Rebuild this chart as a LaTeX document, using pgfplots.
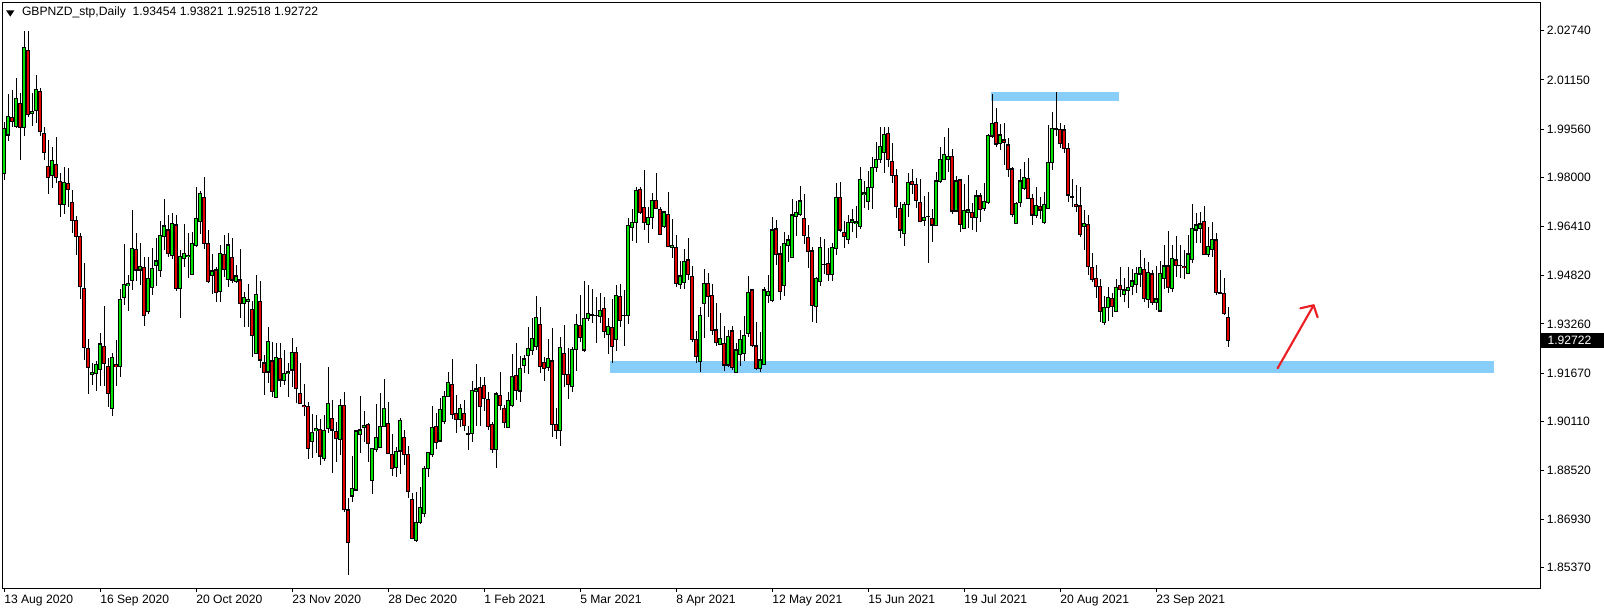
\documentclass[border=0pt]{standalone}
\usepackage{pgfplots}
\pgfplotsset{compat=1.18}
\usepackage{pgfplotstable}
\usepackage{fontspec}
\setmainfont{Liberation Sans}
\definecolor{bull}{RGB}{0,230,0}
\definecolor{bear}{RGB}{230,0,0}
\definecolor{zone}{RGB}{135,206,250}
\definecolor{arrowred}{RGB}{235,30,35}
\pgfplotstableread{
i o h l c
0 1.98127 1.99798 1.97912 1.99582
1 1.99367 2.00693 1.99184 1.99960
2 1.99938 2.00822 1.99636 1.99798
3 1.99636 2.01199 1.99582 2.00553
4 2.00391 2.00714 1.98558 1.99615
5 1.99615 2.02730 1.99335 2.02202
6 2.02116 2.02730 1.99960 2.00046
7 2.00068 2.00714 1.99658 2.00132
8 2.00175 2.01307 1.99744 2.00844
9 2.00790 2.00876 1.99335 1.99475
10 1.99421 1.99636 1.98558 1.98817
11 1.98364 1.99205 1.97459 1.97998
12 1.98073 1.98990 1.97642 1.98548
13 1.98418 1.99291 1.97804 1.97998
14 1.97858 1.98127 1.96704 1.97125
15 1.97125 1.98321 1.96812 1.97836
16 1.97804 1.98289 1.97028 1.97610
17 1.97190 1.97588 1.96208 1.96596
18 1.96607 1.96747 1.95486 1.96079
19 1.96101 1.96187 1.94074 1.94462
20 1.94408 1.95217 1.92090 1.92489
21 1.92468 1.92759 1.90980 1.91853
22 1.91627 1.91983 1.91282 1.91702
23 1.91659 1.92058 1.91099 1.91950
24 1.91789 1.92974 1.91250 1.92608
25 1.92522 1.93837 1.91261 1.91983
26 1.91875 1.92144 1.90581 1.91012
27 1.90527 1.92306 1.90279 1.92177
28 1.91950 1.92737 1.91250 1.91875
29 1.91875 1.94376 1.91530 1.94052
30 1.94117 1.95842 1.93869 1.94538
31 1.94494 1.94840 1.93686 1.94570
32 1.94678 1.96941 1.94354 1.95702
33 1.95670 1.96187 1.94656 1.95001
34 1.95001 1.95885 1.94516 1.95109
35 1.95087 1.95411 1.93201 1.93524
36 1.93653 1.95411 1.93567 1.94732
37 1.94440 1.95702 1.94193 1.95055
38 1.95141 1.96025 1.94494 1.95292
39 1.94979 1.96586 1.94786 1.96111
40 1.96079 1.97286 1.95648 1.96424
41 1.96295 1.96780 1.95411 1.95540
42 1.95465 1.96834 1.95346 1.96510
43 1.96456 1.96780 1.94333 1.94408
44 1.94408 1.95648 1.93438 1.95432
45 1.95379 1.96489 1.95109 1.95541
46 1.95433 1.96209 1.94732 1.95476
47 1.94862 1.96241 1.94850 1.95864
48 1.95789 1.97675 1.95756 1.96673
49 1.96565 1.97556 1.96166 1.97481
50 1.97352 1.98020 1.95670 1.95864
51 1.95864 1.96295 1.94592 1.94624
52 1.94818 1.95508 1.94215 1.94969
53 1.95002 1.95088 1.93977 1.94280
54 1.94301 1.95810 1.93977 1.95541
55 1.95508 1.96134 1.94786 1.95023
56 1.94700 1.96209 1.94463 1.95810
57 1.95411 1.96026 1.94592 1.94678
58 1.94624 1.95163 1.94592 1.94808
59 1.94678 1.95670 1.93438 1.93924
60 1.93924 1.94301 1.93147 1.94118
61 1.93988 1.94549 1.93147 1.94053
62 1.93729 1.93999 1.92177 1.92889
63 1.92307 1.94840 1.92290 1.94215
64 1.93988 1.94646 1.91822 1.92091
65 1.91994 1.92253 1.90959 1.91692
66 1.91703 1.93169 1.91358 1.92695
67 1.92059 1.92684 1.90884 1.91078
68 1.90884 1.92652 1.90870 1.92177
69 1.92145 1.92630 1.91229 1.91444
70 1.91444 1.92414 1.91283 1.91660
71 1.91660 1.91983 1.90905 1.91703
72 1.91768 1.92792 1.91207 1.92339
73 1.92339 1.92522 1.90690 1.91175
74 1.91013 1.91983 1.90668 1.90690
75 1.90625 1.91315 1.90280 1.90582
76 1.90582 1.90744 1.88878 1.89234
77 1.89471 1.90345 1.88910 1.89752
78 1.89806 1.90312 1.89073 1.89870
79 1.89849 1.90183 1.88695 1.88986
80 1.88910 1.90312 1.88825 1.89806
81 1.89881 1.91875 1.89720 1.90690
82 1.90204 1.90797 1.88426 1.89827
83 1.89773 1.90097 1.88803 1.89558
84 1.89525 1.90830 1.89019 1.90614
85 1.90614 1.91045 1.87186 1.87262
86 1.87240 1.87617 1.85138 1.86194
87 1.87693 1.88987 1.87509 1.87941
88 1.87886 1.89827 1.87865 1.89794
89 1.89687 1.90926 1.89072 1.89827
90 1.89913 1.90441 1.89450 1.89977
91 1.90020 1.90042 1.88803 1.89395
92 1.88200 1.89250 1.87746 1.89234
93 1.89201 1.90667 1.89126 1.89589
94 1.89266 1.91012 1.89250 1.89934
95 1.89934 1.91465 1.89913 1.90527
96 1.90042 1.90721 1.89050 1.89072
97 1.89050 1.89697 1.88339 1.88587
98 1.88619 1.89288 1.88296 1.89148
99 1.89148 1.90204 1.88393 1.90150
100 1.89589 1.89827 1.88695 1.89050
101 1.89040 1.89310 1.87617 1.87832
102 1.87584 1.87778 1.86300 1.86312
103 1.86248 1.87832 1.86194 1.86841
104 1.86841 1.87994 1.86787 1.87326
105 1.87132 1.88673 1.87024 1.88587
106 1.88587 1.89120 1.88296 1.89104
107 1.89040 1.90603 1.88964 1.89913
108 1.89956 1.90366 1.89201 1.89428
109 1.89471 1.90850 1.89450 1.90495
110 1.90096 1.91099 1.90020 1.90926
111 1.90905 1.91691 1.90883 1.91379
112 1.91303 1.92112 1.90172 1.90333
113 1.90366 1.90958 1.89719 1.90172
114 1.90172 1.90657 1.89934 1.90527
115 1.90366 1.90797 1.89805 1.89967
116 1.89708 1.89956 1.89180 1.89687
117 1.89719 1.91411 1.89450 1.91120
118 1.91088 1.91950 1.89956 1.91153
119 1.91206 1.91530 1.89956 1.90581
120 1.91271 1.91530 1.90452 1.90850
121 1.90829 1.91066 1.89827 1.89934
122 1.90020 1.90096 1.89072 1.89201
123 1.89201 1.91066 1.88587 1.90991
124 1.90937 1.91713 1.90473 1.90624
125 1.90527 1.90635 1.89880 1.90075
126 1.89913 1.91066 1.89900 1.90775
127 1.90635 1.92274 1.90560 1.91573
128 1.91605 1.92629 1.90797 1.91109
129 1.91088 1.92220 1.90743 1.91821
130 1.91918 1.92252 1.91680 1.92123
131 1.92241 1.93147 1.91627 1.92468
132 1.92414 1.93438 1.92252 1.92791
133 1.92522 1.94161 1.92414 1.93470
134 1.93255 1.93815 1.91660 1.91875
135 1.92015 1.92177 1.91422 1.91821
136 1.91853 1.92759 1.91746 1.92145
137 1.92058 1.93115 1.89590 1.90010
138 1.90010 1.90528 1.89525 1.89805
139 1.89805 1.92845 1.89320 1.92500
140 1.92306 1.93223 1.91228 1.91627
141 1.91627 1.92468 1.90819 1.91304
142 1.91228 1.92522 1.91066 1.92436
143 1.92436 1.93578 1.91746 1.93244
144 1.93212 1.94193 1.92683 1.92813
145 1.92414 1.94646 1.92360 1.93438
146 1.93438 1.94516 1.93363 1.93600
147 1.93557 1.94387 1.93298 1.93550
148 1.93535 1.94139 1.92630 1.93540
149 1.93492 1.94247 1.93276 1.93686
150 1.93762 1.94139 1.92791 1.93007
151 1.92921 1.93438 1.92285 1.93169
152 1.93136 1.94063 1.92004 1.92522
153 1.92759 1.94505 1.92392 1.94171
154 1.94139 1.94538 1.93169 1.93363
155 1.93546 1.94354 1.92554 1.93540
156 1.93524 1.96672 1.93244 1.96446
157 1.96370 1.96963 1.95950 1.96543
158 1.96543 1.97675 1.95885 1.97567
159 1.97610 1.97675 1.96812 1.96855
160 1.97028 1.98235 1.96295 1.96543
161 1.96478 1.97028 1.95885 1.96704
162 1.96694 1.97502 1.96316 1.97254
163 1.97254 1.98138 1.96963 1.96996
164 1.96963 1.97028 1.96140 1.96155
165 1.96403 1.96909 1.96349 1.96877
166 1.96801 1.97513 1.95756 1.95777
167 1.95734 1.96651 1.95379 1.95799
168 1.95734 1.96133 1.94441 1.94570
169 1.94538 1.95292 1.94376 1.94807
170 1.94602 1.95680 1.94376 1.95292
171 1.95325 1.96025 1.94678 1.94861
172 1.94807 1.95130 1.92683 1.92759
173 1.92759 1.93029 1.91983 1.92198
174 1.92037 1.93815 1.91713 1.93546
175 1.93923 1.95034 1.92813 1.94570
176 1.94570 1.94894 1.93492 1.94139
177 1.94182 1.94549 1.92899 1.93061
178 1.93061 1.93924 1.92544 1.92652
179 1.92598 1.93600 1.92576 1.92792
180 1.92630 1.93191 1.91735 1.91929
181 1.91929 1.93061 1.91875 1.92846
182 1.93029 1.93191 1.91768 1.91854
183 1.91681 1.92630 1.91660 1.92414
184 1.92274 1.93061 1.91897 1.92759
185 1.92306 1.93514 1.92070 1.92889
186 1.92953 1.94808 1.92846 1.94279
187 1.94355 1.94377 1.92501 1.92555
188 1.92544 1.93320 1.91768 1.91822
189 1.91822 1.92997 1.91714 1.92091
190 1.91951 1.94441 1.91929 1.94355
191 1.94172 1.94840 1.93945 1.94322
192 1.94010 1.96716 1.93977 1.96295
193 1.96328 1.96619 1.95163 1.95508
194 1.95519 1.95778 1.94031 1.94301
195 1.94495 1.96241 1.94161 1.95864
196 1.95789 1.96134 1.95271 1.95972
197 1.95411 1.97298 1.95379 1.96780
198 1.96748 1.97233 1.96101 1.96867
199 1.96802 1.97718 1.96748 1.97233
200 1.96672 1.97459 1.95843 1.96112
201 1.96058 1.96457 1.95077 1.95595
202 1.95616 1.95756 1.93331 1.93848
203 1.93816 1.94786 1.93277 1.94732
204 1.94624 1.96080 1.94484 1.95735
205 1.95185 1.95993 1.94872 1.95180
206 1.95217 1.95702 1.94657 1.94862
207 1.94862 1.95864 1.94657 1.95735
208 1.95702 1.97804 1.95487 1.97352
209 1.97352 1.97848 1.96241 1.96295
210 1.96220 1.96586 1.95724 1.96080
211 1.95993 1.96780 1.95832 1.96543
212 1.96543 1.96974 1.96241 1.96619
213 1.96511 1.97071 1.96026 1.96554
214 1.96403 1.98343 1.96328 1.97934
215 1.97438 1.97891 1.96996 1.97492
216 1.97212 1.98203 1.96942 1.97675
217 1.97675 1.98645 1.96974 1.98322
218 1.98322 1.99152 1.98182 1.98581
219 1.98581 1.99637 1.98451 1.98990
220 1.98796 1.99637 1.98128 1.99389
221 1.99421 1.99615 1.98322 1.98580
222 1.98526 1.99119 1.97804 1.98052
223 1.98063 1.98268 1.96672 1.97071
224 1.96996 1.97190 1.96026 1.96295
225 1.96187 1.97211 1.95788 1.97125
226 1.97125 1.98128 1.96705 1.97837
227 1.97869 1.98257 1.97448 1.97772
228 1.97772 1.97966 1.96996 1.97265
229 1.97190 1.97944 1.96565 1.96586
230 1.96618 1.97395 1.96435 1.96705
231 1.96737 1.97513 1.95239 1.96730
232 1.96672 1.96963 1.95918 1.96457
233 1.96435 1.98182 1.96420 1.97880
234 1.97858 1.98968 1.97804 1.98580
235 1.97934 1.99313 1.97920 1.98742
236 1.98580 1.99604 1.98182 1.98688
237 1.98688 1.98904 1.96813 1.96910
238 1.96910 1.98052 1.96888 1.97880
239 1.97912 1.97934 1.96241 1.96478
240 1.96349 1.97783 1.96330 1.96910
241 1.96866 1.98074 1.96349 1.96942
242 1.96866 1.97179 1.96295 1.96694
243 1.96694 1.97589 1.96241 1.97395
244 1.97395 1.97481 1.96543 1.96963
245 1.96996 1.97826 1.96920 1.97233
246 1.97190 1.99400 1.97136 1.99367
247 1.99335 2.00693 1.99259 1.99745
248 1.99777 2.00230 1.98990 1.99076
249 1.99098 1.99723 1.98882 1.99367
250 1.99206 1.99745 1.98397 1.99130
251 1.99044 1.99259 1.97998 1.98257
252 1.98268 1.98322 1.96705 1.96802
253 1.96511 1.97211 1.96500 1.97157
254 1.97190 1.98257 1.97050 1.97880
255 1.97642 1.98505 1.97589 1.97998
256 1.97966 1.98613 1.97298 1.97319
257 1.97319 1.97459 1.96457 1.96780
258 1.96780 1.97696 1.96672 1.97082
259 1.97050 1.97373 1.96651 1.96942
260 1.96543 1.97513 1.96490 1.97125
261 1.96996 1.99691 1.96963 1.98483
262 1.98483 2.00100 1.98235 1.99583
263 1.99550 2.00760 1.99350 1.99580
264 1.99530 1.99750 1.98950 1.99100
265 1.99530 1.99700 1.98800 1.98940
266 1.98940 1.99100 1.97210 1.97427
267 1.97373 1.97950 1.97028 1.97370
268 1.97136 1.97750 1.96888 1.97071
269 1.97071 1.97675 1.96058 1.96155
270 1.96403 1.96942 1.95648 1.96511
271 1.96478 1.96780 1.94840 1.95109
272 1.95088 1.95562 1.94624 1.94700
273 1.94732 1.95163 1.94085 1.94462
274 1.94462 1.94700 1.93331 1.93654
275 1.93298 1.94161 1.93223 1.93794
276 1.93794 1.94462 1.93363 1.94117
277 1.94085 1.94247 1.93492 1.93816
278 1.93654 1.94700 1.93640 1.94440
279 1.94495 1.95088 1.94117 1.94376
280 1.94214 1.94732 1.93977 1.94355
281 1.94333 1.95088 1.93762 1.94440
282 1.94462 1.95023 1.94193 1.94646
283 1.94538 1.95088 1.94247 1.94894
284 1.94872 1.95648 1.94440 1.95088
285 1.95023 1.95379 1.93977 1.94085
286 1.94053 1.95271 1.93762 1.94926
287 1.94872 1.95001 1.93869 1.93945
288 1.93956 1.95131 1.93708 1.94064
289 1.93676 1.95303 1.93654 1.94894
290 1.94732 1.95810 1.94376 1.95131
291 1.95131 1.96263 1.94247 1.94430
292 1.94409 1.95810 1.94301 1.95379
293 1.95325 1.96101 1.94786 1.95141
294 1.95152 1.95810 1.94732 1.95150
295 1.95131 1.95648 1.94700 1.95088
296 1.94894 1.96133 1.94872 1.95519
297 1.95346 1.97125 1.95217 1.96349
298 1.96295 1.96834 1.95864 1.96457
299 1.96349 1.96888 1.95864 1.96489
300 1.96586 1.97071 1.95487 1.95508
301 1.95508 1.96381 1.95433 1.95756
302 1.95670 1.96565 1.95433 1.95993
303 1.95972 1.96187 1.94193 1.94268
304 1.94279 1.95001 1.94225 1.94247
305 1.94247 1.94732 1.93546 1.93600
306 1.93454 1.93821 1.92518 1.92722
}\candles
\begin{document}
\begin{tikzpicture}
\useasboundingbox (0,0) rectangle (1203pt,459pt);
\begin{axis}[
  at={(1.5pt,18pt)}, anchor=south west,
  scale only axis, width=1153.5pt, height=438.75pt,
  xmin=-0.5, xmax=384, ymin=1.84717, ymax=2.03636,
  axis line style={black, line width=0.75pt},
  tick align=outside,
  major tick length=3pt,
  xtick pos=bottom, ytick pos=right,
  xtick={0,24,48,72,96,120,144,168,192,216,240,264,288},
  xticklabels={13 Aug 2020,16 Sep 2020,20 Oct 2020,23 Nov 2020,28 Dec 2020,1 Feb 2021,5 Mar 2021,8 Apr 2021,12 May 2021,15 Jun 2021,19 Jul 2021,20 Aug 2021,23 Sep 2021},
  ytick={2.0274,2.0115,1.9956,1.98,1.9641,1.9482,1.9326,1.9167,1.9011,1.8852,1.8693,1.8537},
  yticklabels={2.02740,2.01150,1.99560,1.98000,1.96410,1.94820,1.93260,1.91670,1.90110,1.88520,1.86930,1.85370},
  yticklabel pos=right,
  tick style={black, line width=0.75pt},
  tick label style={font=\fontsize{9.1}{10}\selectfont, inner sep=0pt},
  xticklabel style={anchor=north west, yshift=-2pt},
  yticklabel style={anchor=west, xshift=2pt},
]
% zones
\addplot[fill=zone, draw=none] coordinates {(151.6,1.9167) (372.6,1.9167) (372.6,1.9205) (151.6,1.9205)} -- cycle;
\addplot[fill=zone, draw=none] coordinates {(246.7,2.00476) (278.7,2.00476) (278.7,2.00748) (246.7,2.00748)} -- cycle;
% wicks
\addplot[only marks, mark=*, mark size=0pt, mark options={draw opacity=0, fill opacity=0},
  error bars/.cd, y dir=both, y explicit, error mark=none,
  error bar style={black, line width=0.75pt}]
  table[x=i, y expr={(\thisrow{h}+\thisrow{l})/2}, y error expr={(\thisrow{h}-\thisrow{l})/2}] {\candles};
% body outlines
\addplot[only marks, mark=*, mark size=0pt, mark options={draw opacity=0, fill opacity=0},
  error bars/.cd, y dir=both, y explicit, error mark=none,
  error bar style={black, line width=2.4pt}]
  table[x=i, y expr={(\thisrow{o}+\thisrow{c})/2}, y error expr={abs(\thisrow{c}-\thisrow{o})/2+0.00017}] {\candles};
% bull fills
\addplot[only marks, mark=*, mark size=0pt, mark options={draw opacity=0, fill opacity=0},
  restrict expr to domain={\thisrow{c}-\thisrow{o}}{0:1},
  error bars/.cd, y dir=both, y explicit, error mark=none,
  error bar style={bull, line width=1.15pt}]
  table[x=i, y expr={(\thisrow{o}+\thisrow{c})/2}, y error expr={max(abs(\thisrow{c}-\thisrow{o})/2-0.00017,0)}] {\candles};
% bear fills
\addplot[only marks, mark=*, mark size=0pt, mark options={draw opacity=0, fill opacity=0},
  restrict expr to domain={\thisrow{o}-\thisrow{c}}{0.000001:1},
  error bars/.cd, y dir=both, y explicit, error mark=none,
  error bar style={bear, line width=1.15pt}]
  table[x=i, y expr={(\thisrow{o}+\thisrow{c})/2}, y error expr={max(abs(\thisrow{c}-\thisrow{o})/2-0.00017,0)}] {\candles};
% arrow
\addplot[arrowred, line width=1.6pt, line cap=round] coordinates {(318.4,1.91822) (322.9,1.92840) (327.4,1.93860)};
\addplot[arrowred, line width=1.6pt, line cap=round, line join=round] coordinates {(324.1,1.93763) (327.4,1.93860) (328.4,1.93471)};
\end{axis}
% header
\fill[black] (4.6pt,451.2pt) -- (10.8pt,451.2pt) -- (7.7pt,446.6pt) -- cycle;
\node[anchor=base west, inner sep=0pt, font=\fontsize{9.1}{10}\selectfont] at (16.3pt,447.4pt) {GBPNZD\_stp,Daily\ \ 1.93454 1.93821 1.92518 1.92722};
% current price box
\fill[black] (1155.4pt,198.0pt) rectangle (1203pt,209.2pt);
\node[anchor=west, inner sep=0pt, text=white, font=\fontsize{9.1}{10}\selectfont] at (1160.5pt,203.6pt) {1.92722};
\end{tikzpicture}
\end{document}
